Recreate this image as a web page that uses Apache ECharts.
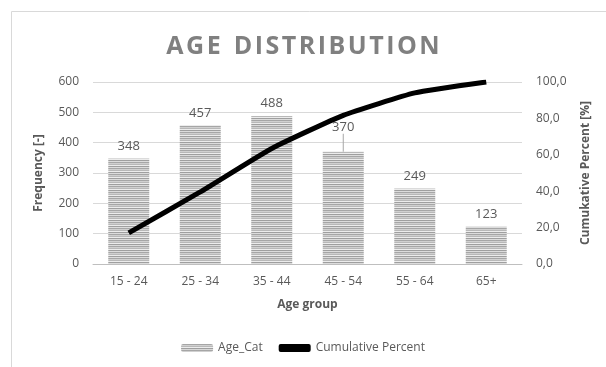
<!DOCTYPE html>
<html>
<head>
<meta charset="utf-8">
<script src="https://cdn.jsdelivr.net/npm/echarts@6/dist/echarts.min.js"></script>
<style>
  html, body { margin: 0; padding: 0; background: #fff; }
  #chart { width: 606px; height: 367px; }
</style>
</head>
<body>
<div id="chart"></div>
<script>
// ---- data ----
const ageGroups = ['15 - 24', '25 - 34', '35 - 44', '45 - 54', '55 - 64', '65+'];
const frequency = [348, 457, 488, 370, 249, 123];
const cumulativePercent = [17.1, 39.6, 63.5, 81.7, 94.0, 100.0];
const freqTicks = [0, 600, 100];
const pctTicks = [0, 100, 20];

// striped fill like the excel pattern
function stripes() {
    const c = document.createElement('canvas');
    c.width = 4; c.height = 6;
    const ctx = c.getContext('2d');
    const rows = ['#a6a6a6', '#d0d0d0', '#b8b8b8', '#ececec', '#9f9f9f', '#dcdcdc'];
    rows.forEach((col, i) => { ctx.fillStyle = col; ctx.fillRect(0, i, 4, 1); });
    return c;
}

const font = '"Open Sans", "Liberation Sans", sans-serif';
const grey = '#595959';

// letter-spaced title (hair spaces between letters)
const titleText = 'AGE DISTRIBUTION'.split(' ').map(w => w.split('').join('\u200a')).join('  ');

// the 45-54 label sits above the line in excel, with a leader line
const barData = frequency.map((v, i) => i === 3 ? { value: v, labelLine: { show: true } } : v);

const chart = echarts.init(document.getElementById('chart'));
chart.setOption({
    animation: false,
    textStyle: { fontFamily: font },
    title: {
        text: titleText, left: 'center', top: 29,
        textStyle: { fontFamily: font, fontSize: 25, fontWeight: 'bold', color: '#808080' }
    },
    graphic: [{
        type: 'rect', shape: { x: 11.5, y: 11.5, width: 700, height: 500 },
        style: { fill: 'none', stroke: '#d9d9d9', lineWidth: 1 }, silent: true
    }],
    legend: {
        bottom: 8, left: 'center', itemGap: 16, itemWidth: 32, itemHeight: 8,
        textStyle: { color: grey, fontSize: 12, fontFamily: font },
        data: [
            { name: 'Age_Cat' },
            { name: 'Cumulative Percent', icon: 'roundRect' }
        ]
    },
    grid: { left: 93, right: 84, top: 82, bottom: 103 },
    xAxis: {
        type: 'category', data: ageGroups,
        name: 'Age group', nameLocation: 'middle', nameGap: 35,
        nameTextStyle: { color: grey, fontWeight: 'bold', fontSize: 12 },
        axisLine: { lineStyle: { color: '#bfbfbf' } },
        axisTick: { show: false },
        axisLabel: { color: grey, fontSize: 12, margin: 12 }
    },
    yAxis: [{
        type: 'value', min: freqTicks[0], max: freqTicks[1], interval: freqTicks[2],
        name: 'Frequency [-]', nameLocation: 'middle', nameGap: 48, nameRotate: 90,
        nameTextStyle: { color: grey, fontWeight: 'bold', fontSize: 12 },
        axisLabel: { color: grey, fontSize: 12, margin: 14 },
        splitLine: { lineStyle: { color: '#d9d9d9' } }
    }, {
        type: 'value', min: pctTicks[0], max: pctTicks[1], interval: pctTicks[2],
        name: 'Cumukative Percent [%]', nameLocation: 'middle', nameGap: 58, nameRotate: 90,
        nameTextStyle: { color: grey, fontWeight: 'bold', fontSize: 12 },
        axisLabel: { color: grey, fontSize: 12, margin: 14, formatter: v => v.toFixed(1).replace('.', ',') },
        splitLine: { show: false }
    }],
    series: [{
        name: 'Age_Cat', type: 'bar', data: barData, barWidth: 41,
        itemStyle: { color: { image: stripes(), repeat: 'repeat' } },
        label: { show: true, position: 'top', color: grey, fontSize: 13, distance: 6 },
        labelLine: { show: false, lineStyle: { color: '#a6a6a6', width: 1 } },
        labelLayout: p => p.dataIndex === 3 ? { dy: -12 } : null
    }, {
        name: 'Cumulative Percent', type: 'line', yAxisIndex: 1, data: cumulativePercent,
        symbol: 'none', smooth: 0.15, z: 3,
        lineStyle: { color: '#000', width: 5 }, itemStyle: { color: '#000' }
    }]
});
</script>
</body>
</html>
